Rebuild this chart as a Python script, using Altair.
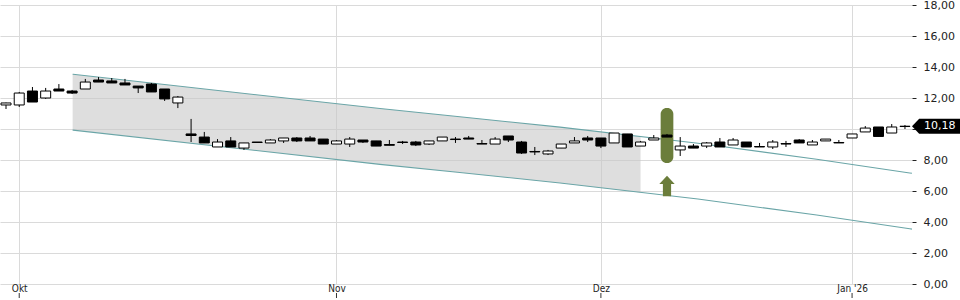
import json
import altair as alt
import pandas as pd

# ---- candle data (trading-day index 0..68) ----
opens = [11.55, 11.55, 12.45, 12.00, 12.58, 12.45, 12.58, 13.16, 13.10, 12.97,
         12.77, 12.90, 12.58, 11.68, 9.68, 9.48, 8.84, 9.23, 8.77, 9.16,
         9.10, 9.23, 9.42, 9.42, 9.35, 9.03, 9.03, 9.29, 9.23, 9.00,
         9.16, 9.16, 9.03, 9.23, 9.35, 9.42, 9.06, 9.03, 9.55, 9.16,
         8.55, 8.39, 8.77, 9.10, 9.42, 9.42, 9.10, 9.68, 8.90, 9.29,
         9.61, 8.65, 8.90, 8.90, 9.16, 8.97, 9.16, 8.87, 8.84, 9.06,
         9.29, 8.97, 9.23, 9.13, 9.42, 9.81, 10.13, 9.74, 10.16]
highs = [11.70, 12.39, 12.71, 12.65, 12.90, 12.52, 13.23, 13.35, 13.29, 13.23,
         12.77, 12.97, 12.58, 12.13, 10.65, 9.81, 9.35, 9.48, 9.10, 9.16,
         9.35, 9.42, 9.48, 9.55, 9.35, 9.29, 9.48, 9.29, 9.23, 9.29,
         9.23, 9.23, 9.23, 9.48, 9.48, 9.55, 9.29, 9.48, 9.55, 9.23,
         8.84, 8.65, 9.03, 9.48, 9.55, 9.42, 9.74, 9.68, 9.23, 9.61,
         9.68, 9.48, 9.03, 9.16, 9.42, 9.42, 9.16, 9.10, 9.29, 9.23,
         9.35, 9.29, 9.35, 9.29, 9.68, 10.19, 10.13, 10.32, 10.26]
lows = [11.29, 11.42, 11.74, 11.94, 12.45, 12.26, 12.58, 13.03, 12.97, 12.84,
        12.32, 12.39, 11.81, 11.35, 9.16, 9.10, 8.84, 8.84, 8.65, 9.13,
        9.10, 9.10, 9.16, 9.23, 9.03, 9.03, 8.84, 9.10, 8.90, 8.95,
        9.03, 8.90, 8.97, 9.23, 9.10, 9.35, 9.03, 9.03, 9.16, 8.39,
        8.32, 8.32, 8.77, 9.10, 9.16, 8.77, 9.10, 8.84, 8.90, 9.29,
        9.48, 8.26, 8.77, 8.77, 8.84, 8.97, 8.84, 8.84, 8.71, 8.84,
        9.10, 8.97, 9.23, 9.10, 9.42, 9.81, 9.52, 9.74, 10.00]
closes = [11.68, 12.32, 11.74, 12.45, 12.45, 12.32, 13.03, 13.03, 12.97, 12.84,
          12.65, 12.39, 11.94, 12.06, 9.58, 9.10, 9.16, 8.84, 9.10, 9.13,
          9.29, 9.42, 9.23, 9.23, 9.03, 9.23, 9.35, 9.16, 8.90, 8.95,
          9.13, 8.97, 9.23, 9.48, 9.32, 9.35, 9.03, 9.35, 9.29, 8.45,
          8.52, 8.58, 9.03, 9.23, 9.29, 8.90, 9.74, 8.84, 9.16, 9.42,
          9.48, 8.90, 8.77, 9.10, 8.84, 9.29, 8.84, 8.84, 9.16, 9.03,
          9.10, 9.16, 9.35, 9.10, 9.68, 10.06, 9.52, 10.13, 10.18]
idx = list(range(len(opens)))

# month labels on the trading-day index
month_idx = [1, 25, 45, 64]
month_labels = ["Okt", "Nov", "Dez", "Jan '26"]

# trend channel vertices (index, value)
chan_i = [5.04, 28.29, 41.91, 52.34, 61.32, 68.53]
chan_upper = [13.53, 11.32, 10.12, 9.08, 8.05, 7.14]
chan_lower = [9.93, 7.72, 6.52, 5.48, 4.45, 3.54]
shade_i = [5.04, 28.29, 41.91, 48.0]
shade_upper = [13.53, 11.32, 10.12, 9.51]
shade_lower = [9.93, 7.72, 6.52, 5.91]

# signal marker
signal_i = [50]
signal_top = [11.35]
signal_bottom = [7.81]
arrow_value = [6.32]

Y_TICKS = list(range(0, 19, 2))
Y_HIDDEN_LABEL = 10  # covered by the last-price tag
X_MIN, X_MAX = -0.454, 68.533
W, H = 912, 279

xs = alt.Scale(domain=[X_MIN, X_MAX], nice=False, zero=False, padding=0)
ys = alt.Scale(domain=[0, 18], nice=False, zero=True, padding=0)

candles = pd.DataFrame({"i": idx, "o": opens, "h": highs, "l": lows, "c": closes})
candles["up"] = candles["c"] >= candles["o"]

label_expr = " : ".join(
    f"datum.value == {v} ? {json.dumps(t)}" for v, t in zip(month_idx, month_labels)
) + " : ''"

x_axis = alt.Axis(values=month_idx, grid=True, gridColor="#dadada", domain=False,
                  ticks=False, tickSize=0, labelPadding=4, labelBaseline="middle",
                  labelFont="DejaVu Sans Condensed", labelFontSize=10, labelColor="#222",
                  labelExpr=label_expr, title=None)
y_axis = alt.Axis(orient="right", values=Y_TICKS, grid=True, gridColor="#dadada",
                  domain=False, tickColor="#222", tickSize=4, labelPadding=7,
                  labelFont="DejaVu Sans", labelFontSize=11, labelColor="#222",
                  labelExpr=f"datum.value == {Y_HIDDEN_LABEL} ? '' : "
                            "replace(format(datum.value, '.2f'), '.', ',')",
                  title=None)


def X(field):
    return alt.X(field, scale=xs, axis=x_axis)


def Y(field):
    return alt.Y(field, scale=ys, axis=y_axis)


wicks = alt.Chart(candles).mark_rule(color="black", strokeWidth=1).encode(
    x=X("i:Q"), y=Y("l:Q"), y2="h:Q",
)

bodies = alt.Chart(candles).mark_bar(size=10, stroke="black", strokeWidth=1).encode(
    x=X("i:Q"), y=Y("o:Q"), y2="c:Q",
    fill=alt.condition(alt.datum.up, alt.value("white"), alt.value("black")),
)

shade_df = pd.DataFrame({"i": shade_i, "u": shade_upper, "lo": shade_lower})
shade = alt.Chart(shade_df).mark_area(color="#c8c8c8", opacity=0.6).encode(
    x=X("i:Q"), y=Y("u:Q"), y2="lo:Q",
)

chan_df = pd.concat([
    pd.DataFrame({"i": chan_i, "v": chan_upper, "line": "upper"}),
    pd.DataFrame({"i": chan_i, "v": chan_lower, "line": "lower"}),
])
chan = alt.Chart(chan_df).mark_line(color="#6aa5a7", strokeWidth=1.1, interpolate="monotone").encode(
    x=X("i:Q"), y=Y("v:Q"), detail="line:N",
)

sig_df = pd.DataFrame({"a": [s - 0.48 for s in signal_i], "b": [s + 0.48 for s in signal_i],
                       "t": signal_top, "bt": signal_bottom})
signal = alt.Chart(sig_df).mark_bar(color="#6b7d3b", cornerRadius=6).encode(
    x=X("a:Q"), x2="b:Q", y=Y("t:Q"), y2="bt:Q",
)

arrow_path = "M0,-1L0.75,-0.2L0.4,-0.2L0.4,1L-0.4,1L-0.4,-0.2L-0.75,-0.2Z"
arrow_df = pd.DataFrame({"i": signal_i, "v": arrow_value})
arrow = alt.Chart(arrow_df).mark_point(shape=arrow_path, size=420, filled=True,
                                       color="#6b7d3b", opacity=1, strokeWidth=0).encode(
    x=X("i:Q"), y=Y("v:Q"),
)

tag_df = pd.DataFrame({"i": [X_MAX], "v": [closes[-1]],
                       "txt": [f"{closes[-1]:.2f}".replace(".", ",")]})
tag_path = "M-1,0L-0.7,-0.31L1,-0.31L1,0.31L-0.7,0.31Z"
tag = alt.Chart(tag_df).mark_point(shape=tag_path, size=2304, filled=True, color="black",
                                   opacity=1, strokeWidth=0, xOffset=24).encode(
    x=X("i:Q"), y=Y("v:Q"),
)
tag_text = alt.Chart(tag_df).mark_text(color="white", font="DejaVu Sans", fontSize=11,
                                       align="left", baseline="middle", xOffset=12).encode(
    x=X("i:Q"), y=Y("v:Q"), text="txt:N",
)

tick_df = pd.DataFrame({"i": month_idx})
xticks = alt.Chart(tick_df).mark_rule(color="#333", strokeWidth=1).encode(
    x=X("i:Q"),
    y=alt.value(H + 9),
    y2=alt.value(H + 14),
)

chart = alt.layer(shade, chan, signal, wicks, bodies, arrow, tag, tag_text, xticks).properties(
    width=W, height=H,
    autosize=alt.AutoSizeParams(type="none"),
    padding={"left": 0, "top": 5, "right": 48, "bottom": 16},
    background="white",
).configure_view(stroke=None)

chart.save("out.html", embed_options={"renderer": "svg", "actions": False})
